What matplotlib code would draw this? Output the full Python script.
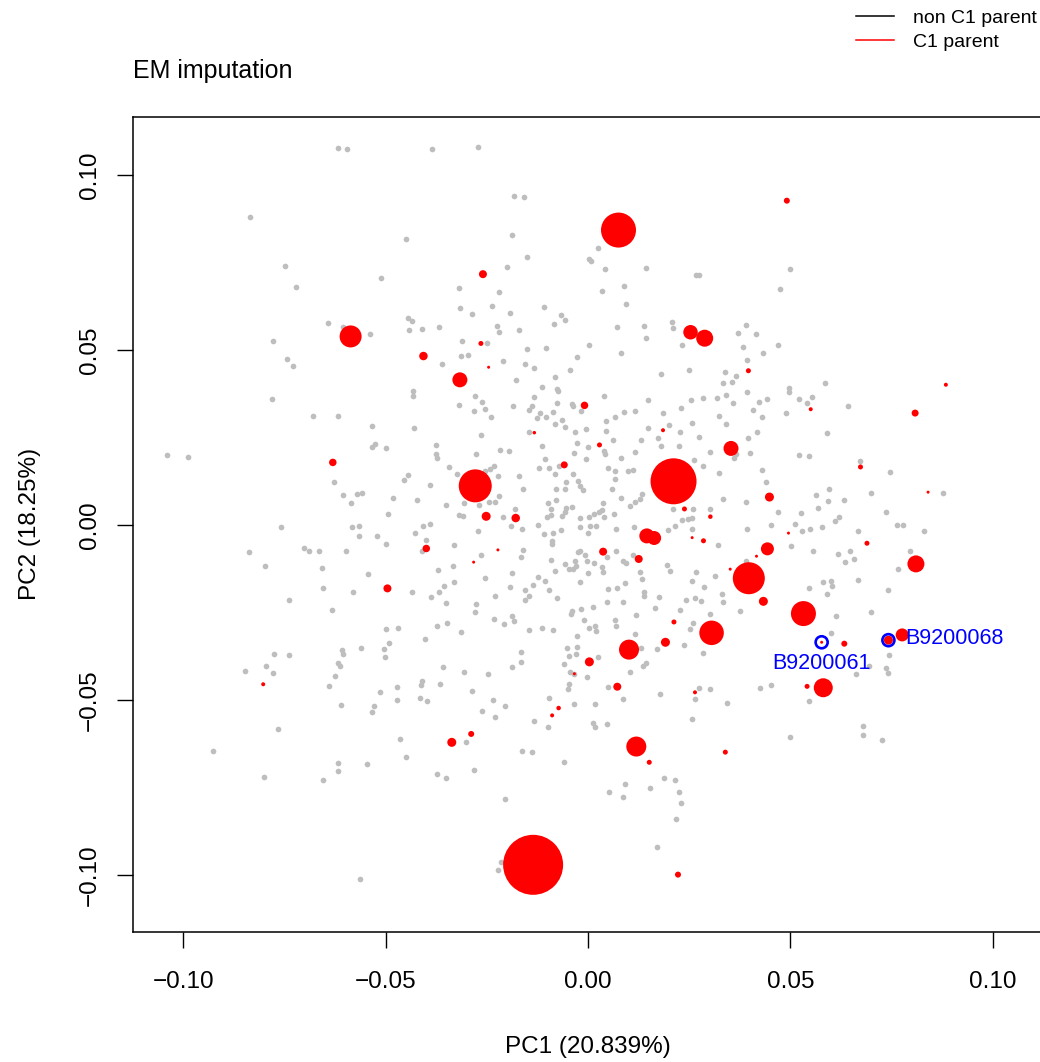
import numpy as np
import matplotlib
matplotlib.use("Agg")
import matplotlib.pyplot as plt
from matplotlib.lines import Line2D

# PCA scores, x1000 (all lines, grey background)
pc1_bg = [
    -61.9, -59.6, -38.6, -83.5, -44.9, -74.8, -72.2, -51.2, -64.2, -60.5, -53.8, -44.4, -43.5, -44.3, -41.0,
    -77.8, -74.5, -72.9, -27.1, -18.3, -15.9, -18.7, -15.1, -20.0, 0.3, 0.6, 2.5, 4.1, 14.4, 26.7, 27.5, 8.9,
    3.4, 9.4, -31.8, -22.0, -31.6, -28.8, -23.8, -19.4, -11.0, -6.8, -5.8, -8.5, -22.5, -22.1, -17.1, -36.9,
    7.2, 13.9, 20.7, 20.9, 14.4, 23.1, -31.2, -25.0, -31.5, -29.7, -36.1, -21.0, -15.1, -10.3, 0.2, 8.0,
    -2.8, -15.5, -13.5, -4.4, -8.3, -17.8, -11.4, 18.1, 24.9, 33.7, 33.2, 35.5, -7.7, 49.8, 47.5, 39.1, 37.0,
    41.6, 38.2, 46.8, 43.2, 39.3, 36.6, 49.6, 58.5, -78.1, -43.3, -43.2, -67.9, -61.9, -53.5, -43.0, -52.6,
    -53.5, -49.9, -104.0, -99.0, -62.9, -44.5, -45.5, -39.1, -60.5, -57.0, -55.8, -58.7, -48.3, -42.4, -49.5,
    -76.0, -58.4, -56.6, -40.9, -39.1, -56.6, -52.1, -42.9, -49.9, -40.0, -41.1, -83.8, -70.2, -69.0, -66.6,
    -59.8, -79.8, -65.7, -54.4, -65.5, -58.2, -43.6, -38.9, -74.0, -63.4, -50.0, -47.0, -40.4, -60.9, -60.5,
    -56.2, -50.4, -49.2, -50.1, -77.7, -74.0, -84.7, -79.6, -78.0, -61.9, -61.3, -62.5, -64.0, -61.1, -51.4,
    -47.3, -47.2, -52.9, -53.5, -41.1, -41.2, -41.6, -39.8, -76.6, -92.8, -46.5, -44.9, -61.7, -61.9, -54.7,
    -80.1, -65.5, -56.4, -35.9, -30.7, -24.7, -18.9, -16.5, -6.0, -4.6, -3.4, -0.4, -36.6, -28.8, -23.5,
    -20.5, -26.2, -22.9, -9.7, -13.4, -9.8, -4.7, -5.1, -3.4, 1.6, 1.1, 1.6, 4.7, 4.8, 8.6, 10.4, 13.5, 14.2,
    17.7, 26.4, 27.4, 30.0, 34.4, 25.6, -30.1, -16.4, -13.9, -5.9, -28.2, -37.3, -35.2, -20.6, 18.8, 21.4,
    9.2, 5.2, 8.5, 15.3, 22.5, 22.9, 21.7, 16.9, -21.6, -22.2, 42.4, 45.1, 54.6, 50.0, 67.8, 67.8, 72.7,
    69.5, 73.6, 74.2, 66.1, 39.3, 35.9, 42.2, 44.3, 49.6, 52.0, 54.1, 55.3, 64.2, 40.7, 49.0, 43.0, 39.6,
    41.8, 59.0, 40.0, 36.6, 36.1, 52.0, 54.5, 67.2, 74.5, 42.9, 44.0, 59.5, 56.3, 59.2, 63.2, 69.8, 87.8,
    38.9, 47.0, 52.5, 56.9, 61.9, 60.9, 73.7, 76.3, 77.9, 82.9, 39.3, 45.1, 51.2, 52.9, 54.7, 57.9, 66.6,
    50.1, 55.6, 61.8, 64.7, 65.6, 63.5, 79.5, 76.5, 38.9, 58.0, 60.0, 60.3, 54.5, 58.9, 66.8, 74.1, 37.5,
    69.8, 61.2, 59.9, 74.3,
    -27.9, -26.3, -31.8, -28.3, -25.6, -24.1, -18.5, -13.3, -13.9, -14.5, -11.8, -8.8, -10.3, -12.6, -7.6,
    -7.4, -4.0, -3.8, -1.7, -6.5, 3.8, 4.4, 6.7, 8.8, 11.6, 14.9, 18.5, 23.0, 25.5, 28.5, 31.9, 34.1, 32.4,
    34.1, 25.6, 22.7, 27.5, 19.9, 17.3, 17.9, 14.7, 13.0, 11.5, 6.2, 8.0, 4.4, 3.8, 4.2, -0.1, -0.6, -0.6,
    -3.2, -2.7, -3.5, -5.8, -8.2, -11.4, -14.5, -19.5, -21.8, -26.4, -27.8, -37.5, -37.7, -37.3, -34.5,
    -32.4, -23.2, -24.2, -25.4, -22.3, -17.0, -16.2, -22.0, -23.0, -24.5, -27.0, -30.6, -35.2, -31.8, -31.0,
    -27.2, -21.1, -19.1, -18.1, -16.4, -10.6, -12.2, -9.7, -8.3, -7.2, -5.8, -7.9, -5.4, -2.5, -1.9, -1.2,
    -3.7, -9.9, -9.1, -8.0, -9.2, -10.1, -5.8, -6.4, -5.4, -3.9, -2.1, 0.1, 0.5, 2.0, 0.0, -2.0, -6.6, -8.8,
    -10.9, -12.3, -9.0, -9.0, 6.7, 6.7, 4.9, 9.8, 11.2, 5.9, 8.0, 3.6, 3.3, 2.8, 3.8, 1.4, 6.3, 10.4, 11.5,
    12.7, 13.2, 11.4, 7.0, 19.8, 21.5, 23.3, 24.7, 25.7, 25.7, 21.0, 25.9, 30.0, 33.2, 30.0, 28.3, 26.1,
    22.4, 32.4, 32.2, -33.2, -37.1, -33.3, -26.5, -16.2, -16.6, -18.9, -25.4, -36.9, -35.5, -33.1, -23.1,
    -19.3, -15.5, -14.6, -13.6, -15.6, -12.4, -10.6, -9.7, -7.8, -9.1, -8.1, -5.6, -4.7, -3.7, -3.3, -2.9,
    -2.5, -1.9, -0.9, -0.4, -0.1, -2.1, 1.4, 3.3, 3.6, 4.6, 6.9, 8.5, 9.4, 11.0, 12.8, 13.2, 9.0, 7.1, 4.9,
    4.6, 8.5, 13.8, 13.9, 17.6, 16.6, 20.3, 19.4, 25.7, 26.6, 28.7, 31.4, 33.1, 33.2, 24.2, 26.5, 27.8,
    22.6, 26.0, 25.1, 30.0, 28.5, 23.6, 17.0, 13.0, 11.6, 11.9, 6.7, 6.8, 1.6, 2.0, 0.2, -1.1, 1.1, -1.7,
    -4.0, -4.3, -2.8, -2.7, -5.3, -4.8, -3.1, 2.4, -16.5, -18.8, -18.3, -20.8, -23.2, -14.7, -11.3, -8.8,
    -27.8, -28.0, -34.8, -31.5, -37.3, -35.2,
]
pc2_bg = [
    107.8, 107.5, 107.6, 88.1, 81.8, 74.1, 68.0, 70.6, 57.6, 56.7, 54.5, 59.1, 58.2, 55.8, 55.9,
    52.5, 47.5, 45.4, 108.0, 94.1, 93.8, 82.9, 76.5, 73.8, 76.1, 75.6, 79.2, 73.1, 73.4, 71.6, 71.5, 68.3,
    66.9, 63.1, 67.7, 66.7, 62.0, 60.3, 62.5, 60.7, 62.2, 60.1, 58.7, 57.5, 56.9, 55.2, 55.8, 56.5,
    56.6, 56.9, 58.0, 56.4, 53.5, 51.5, 52.6, 52.1, 48.2, 48.7, 46.1, 46.9, 50.4, 50.6, 51.4, 49.3,
    48.0, 45.9, 44.9, 44.2, 42.2, 41.5, 39.5, 43.1, 44.4, 43.8, 40.5, 40.8, 38.9, 73.1, 67.4, 57.2, 54.9,
    54.6, 50.8, 51.4, 49.1, 47.3, 42.6, 39.3, 40.7, 36.1, 38.2, 36.9, 31.1, 31.1, 28.2, 27.6, 23.3,
    22.2, 22.0, 20.1, 19.4, 12.4, 14.2, 12.9, 11.4, 8.6, 8.9, 9.2, 6.2, 7.6, 7.3, 3.2,
    -0.7, -0.6, -0.2, -0.2, 0.3, -3.1, -3.1, -2.3, -5.3, -4.3, -7.5, -7.7, -6.7, -7.5, -7.3,
    -7.3, -11.6, -12.4, -14.1, -17.9, -19.1, -19.1, -20.5, -21.3, -24.4, -29.8, -29.4, -32.6, -35.6, -36.9,
    -35.2, -35.4, -33.7, -37.8, -36.9, -37.1, -41.8, -40.4, -42.4, -39.3, -40.3, -43.1, -45.9, -51.3, -47.7,
    -46.4, -49.9, -51.8, -53.3, -44.7, -45.8, -49.5, -50.2, -58.2, -64.5, -61.2, -66.4, -67.9, -70.3, -68.2,
    -71.9, -72.9, -101.2, -40.6, -42.1, -42.6, -40.7, -39.1, -39.7, -42.0, -42.5, -43.5, -45.3, -47.5, -50.1,
    -51.7, -53.2, -54.9, -49.3, -56.1, -57.8, -45.4, -46.9, -51.1, -51.1, -56.7, -57.6, -56.9, -46.2, -49.6, -42.0, -40.3, -39.3,
    -48.3, -49.7, -46.7, -46.9, -50.8, -55.3, -62.0, -64.6, -64.9, -67.8, -69.9, -71.1, -72.2, -78.4, -72.3, -72.9,
    -73.9, -76.4, -77.6, -75.1, -76.3, -79.4, -84.0, -92.0, -96.4, -98.7, -46.7, -45.7, -50.3, -60.5, -57.3, -59.9, -61.3,
    -40.3, -40.9, -42.2, -42.5, 38.1, 34.9, 35.3, 35.9, 38.1, 35.9, 34.9, 36.5, 33.9, 32.9, 32.1, 30.8, 24.9,
    26.5, 26.2, 20.7, 20.3, 19.1, 19.9, 19.7, 18.3, 15.3, 15.6, 12.2, 10.2, 8.7, 6.9, 7.3, 9.1, 9.2,
    6.7, 3.8, 3.5, 4.9, 2.4, 1.1, 3.6, -0.1, 0.1, -1.8, -1.1, 0.1, 0.3, -1.7, -1.1, -0.6, -1.7,
    -5.9, -7.3, -8.2, -7.4, -9.7, -10.6, -7.5, -12.5, -10.4, -16.4, -15.9, -17.5, -18.1, -19.6, -15.6, -18.6, -24.6,
    -24.9, -26.0, -30.9, -37.1,
    37.0, 35.1, 34.2, 32.7, 33.3, 31.0, 34.0, 36.7, 34.0, 32.9, 32.0, 32.3, 31.0, 30.5, 35.0,
    38.4, 34.6, 33.9, 32.6, 30.0, 36.9, 29.6, 30.8, 32.3, 32.7, 35.7, 32.0, 33.4, 35.6, 36.3, 36.4, 37.1, 31.2,
    28.8, 29.1, 26.7, 25.2, 28.5, 24.8, 22.6, 27.7, 24.4, 20.8, 24.4, 19.2, 26.8, 21.2, 20.2, 22.4, 19.0, 27.5,
    26.5, 23.5, 20.5, 28.0, 29.0, 22.6, 26.7, 21.1, 21.5, 25.8, 20.4, 22.8, 20.4, 19.1, 16.6,
    14.6, 17.0, 15.9, 15.4, 14.0, 14.1, 10.4, 8.3, 6.5, 6.7, 5.7, 6.3, 5.6, 3.0, 2.5,
    -1.7, 2.4, -0.3, 4.5, -1.0, 18.9, 16.4, 16.4, 14.7, 16.8, 10.3, 10.4, 12.2, 12.6, 11.3, 10.1,
    14.5, 6.2, 4.6, 7.1, 3.0, 2.2, 3.7, 2.5, 4.8, 5.1, 1.9, 2.3, -0.2, -0.2, -2.3, -0.6, -1.5, -2.4,
    -2.7, -0.1, -4.6, -5.5, 15.5, 13.1, 16.4, 15.4, 15.7, 10.4, 7.7, 6.4, 4.4, 3.6, 2.3, 3.1, 3.2, 5.5, 6.5,
    7.4, 8.9, -0.5, -1.1, -1.4, -0.2, 1.4, 1.8, 2.1, -1.0, 4.6, 4.6, 4.6, 7.4, 20.9, 16.8, 18.5,
    22.5, 15.0, -5.6, -5.8, -12.9, -11.6, -8.6, -7.1, -9.0, -13.8, -15.2, -19.2, -17.3, -16.4, -20.3,
    -17.6, -18.6, -20.2, -17.2, -21.4, -14.8, -16.1, -18.5, -20.9, -9.9, -13.0, -11.1, -12.7, -12.6, -10.4, -11.6,
    -7.7, -7.5, -8.5, -10.4, -13.8, -16.2, -10.9, -12.1, -13.3, -9.2, -7.3, -10.4, -10.9, -8.6, -13.5, -15.4, -16.7, -17.9, -18.4,
    -22.1, -22.1, -19.0, -20.4, -20.7, -23.7, -13.0, -11.4, -15.9, -13.5, -17.8, -14.7, -19.7, -22.1, -21.3, -20.9, -21.6,
    -24.2, -28.0, -29.7, -25.4, -36.7, -34.3, -35.3, -35.0, -31.2, -25.6, -27.2, -28.8, -28.8, -30.4, -29.3, -27.1, -23.4, -24.0,
    -24.6, -25.5, -31.8, -34.8, -35.2, -37.4, -36.8, -37.7, -36.4, -25.9, -27.5, -28.3, -26.8, -29.9, -29.3, -30.0,
    -22.5, -24.8, -27.9, -30.5, -28.8, -22.4,
]

# C1 parents (red), scores x1000 and relative point size (cex)
pc1_par = [7.5, -58.7, -26.0, 49.1, 25.3, 28.8, -31.7, -26.5, -24.6, 39.6, 88.4, -40.7, -63.1, -40.0, -49.6,
           -80.3, -0.9, -13.3, 2.8, -5.9, -27.9, -25.2, -17.9, -22.3, -28.3, 21.1, 18.5, 35.3, 23.8, 30.2,
           25.7, 28.5, 14.5, 16.3, 3.7, 12.5, 35.1, 21.2, 19.1, 10.1, 30.5, 0.3, -3.4, 7.2, -7.3, -8.9, 26.4,
           -33.7, -28.9, 11.9, 15.1, 33.9, 22.2, -13.6, 54.1, 58.1, 55.0, 80.8, 67.3, 84.0, 44.8, 49.5, 68.9,
           81.0, 44.3, 41.6, 39.7, 43.3, 53.2, 57.7, 63.3, 74.2, 77.6]
pc2_par = [84.3, 53.9, 71.7, 92.7, 55.1, 53.4, 41.5, 51.9, 45.1, 44.1, 40.1, 48.3, 17.9, -6.7, -18.1,
           -45.5, 34.2, 26.4, 22.9, 17.2, 11.2, 2.5, 2.0, -7.1, -10.6, 12.5, 27.1, 21.9, 4.6, 2.4,
           -3.6, -4.5, -3.1, -3.7, -7.6, -9.7, -12.6, -27.7, -33.5, -35.6, -30.8, -39.1, -42.5, -46.2, -52.3, -54.4, -47.8,
           -62.1, -59.7, -63.3, -67.8, -64.9, -99.9, -97.1, -46.1, -46.5, 33.1, 32.0, 16.6, 9.4, 8.0, -2.3, -5.2,
           -11.1, -6.8, -8.9, -15.2, -21.8, -25.3, -33.5, -33.9, -32.9, -31.4]
cex_par = [7.0, 4.4, 1.6, 1.2, 2.9, 3.4, 3.0, 1.0, 0.6, 1.0, 0.8, 1.7, 1.5, 1.5, 1.6,
           0.8, 1.5, 0.7, 1.0, 1.4, 6.6, 1.8, 1.7, 0.6, 0.6, 9.2, 0.8, 3.0, 1.0, 0.9,
           0.6, 1.0, 3.0, 2.8, 1.6, 1.6, 0.6, 1.0, 1.8, 4.0, 4.9, 1.8, 0.6, 1.6, 0.9, 0.8, 0.8,
           1.8, 1.2, 4.0, 1.0, 1.0, 1.2, 12.0, 1.0, 3.8, 0.8, 1.4, 1.0, 0.6, 1.8, 0.6, 1.0,
           3.4, 2.6, 0.6, 6.4, 1.8, 5.0, 0.6, 1.2, 1.8, 2.6]

# highlighted lines
hl_names = ["B9200061", "B9200068"]
hl_pc1 = [57.7, 74.2]
hl_pc2 = [-33.5, -32.9]

ticks = [-0.10, -0.05, 0.0, 0.05, 0.10]
tick_labels = ["\u22120.10", "\u22120.05", "0.00", "0.05", "0.10"]

plt.rcParams['font.family'] = ['Liberation Sans', 'DejaVu Sans']

W, H = 1040, 1062
fig = plt.figure(figsize=(W / 100, H / 100), dpi=100)
ax = fig.add_axes([133.3 / W, 1 - 932 / H, (1043 - 133.3) / W, (932 - 116.7) / H])

x_bg = np.array(pc1_bg) / 1000
y_bg = np.array(pc2_bg) / 1000
x_par = np.array(pc1_par) / 1000
y_par = np.array(pc2_par) / 1000
dot = 3.6  # pt, diameter of a cex=1 point

ax.scatter(x_bg, y_bg, s=4.1 ** 2, color='#BEBEBE', linewidths=0, zorder=2)
ax.scatter(x_par, y_par, s=(np.array(cex_par) * dot) ** 2, color='#FF0000', linewidths=0, zorder=3)

hx = np.array(hl_pc1) / 1000
hy = np.array(hl_pc2) / 1000
ax.scatter(hx, hy, s=75, facecolors='none', edgecolors='#0000FF', linewidths=1.9, zorder=4)
ax.annotate(hl_names[0], (hx[0], hy[0]), xytext=(0, -15), textcoords='offset points',
            ha='center', va='center', color='#0000FF', fontsize=15.5)
ax.annotate(hl_names[1], (hx[1], hy[1]), xytext=(12, 1), textcoords='offset points',
            ha='left', va='center', color='#0000FF', fontsize=15.5)

ax.set_xlim(-0.1124, 0.1124)
ax.set_ylim(-0.1163, 0.1167)
ax.set_xticks(ticks)
ax.set_xticklabels(tick_labels)
ax.set_yticks(ticks)
ax.set_yticklabels(tick_labels, rotation=90, va='center')
ax.tick_params(length=11.5, width=1.0, labelsize=17.5, direction='out')
ax.tick_params(axis='x', pad=16.5)
ax.tick_params(axis='y', pad=12)
for sp in ax.spines.values():
    sp.set_linewidth(1.1)

fig.text(588 / W, 1 - 1047 / H, "PC1 (20.839%)", ha='center', va='center', fontsize=17.5)
fig.text(30 / W, 1 - 524 / H, "PC2 (18.25%)", ha='center', va='center', rotation=90, fontsize=17.5)
fig.text(133 / W, 1 - 71 / H, "EM imputation", ha='left', va='center', fontsize=18)

handles = [Line2D([], [], color='black', lw=1.1), Line2D([], [], color='#FF0000', lw=1.1)]
fig.legend(handles, ["non C1 parent", "C1 parent"], loc='upper left',
           bbox_to_anchor=(856 / W, 1 - 9 / H), frameon=False, fontsize=14,
           handlelength=1.95, handletextpad=1.0, labelspacing=0.36,
           borderpad=0, borderaxespad=0)

fig.savefig("out.png", dpi=100)
